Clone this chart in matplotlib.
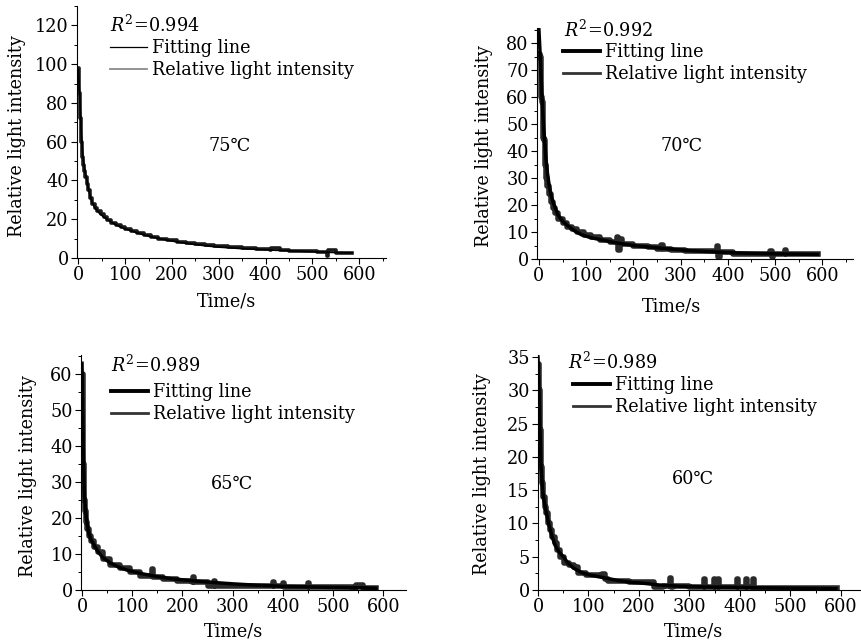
import matplotlib
matplotlib.use('Agg')
import matplotlib.pyplot as plt
from matplotlib.ticker import MultipleLocator

plt.rcParams['font.family'] = ['DejaVu Serif', 'DejaVu Sans']
plt.rcParams['mathtext.fontset'] = 'dejavuserif'
FS = 12.7
plt.rcParams['font.size'] = FS

# 75 C
t75_fit = [0, 2, 4, 6, 8, 10, 14, 18, 22, 28, 35, 45, 55, 70, 85, 100, 125, 150,
           180, 210, 240, 275, 300, 350, 400, 450, 500, 550, 585]
i75_fit = [97, 88, 78, 66, 58, 52, 45, 40, 35, 29.5, 26, 23, 21, 18.5, 16.5, 15, 13, 11.2,
           9.6, 8.3, 7.2, 6.2, 5.6, 4.8, 4.2, 3.7, 3.2, 2.8, 2.6]
t75 = [0, 1, 2, 3, 4, 5, 6, 7, 8, 10, 12, 15, 18, 21, 25, 30, 35, 40, 48, 55, 62, 70,
       80, 90, 100, 112, 125, 140, 155, 170, 190, 210, 230, 250, 270, 290, 320, 350,
       380, 410, 412, 430, 450, 480, 510, 530, 532, 534, 550, 585]
i75 = [98, 92, 85, 80, 72, 65, 60, 56, 52, 48, 45, 42, 38, 35, 31, 28, 26, 24, 22.5, 21,
       19.5, 18, 17, 16, 15, 14, 13, 12, 11, 10, 9.3, 8.5, 7.5, 7, 6.5, 6, 5.5, 5,
       4.5, 4.2, 5.2, 4, 3.8, 3.5, 3, 2.8, 1.2, 4.2, 2.7, 2.6]

# 70 C
t70_fit = [0, 2, 4, 6, 8, 10, 12, 15, 18, 22, 26, 30, 40, 50, 60, 75, 90, 110, 135,
           160, 200, 240, 280, 320, 360, 400, 450, 500, 550, 590]
i70_fit = [85, 78, 70, 62, 55, 49, 44, 37, 32, 27, 23.5, 21, 16.5, 14, 12.5, 10.5, 9, 7.9, 7,
           6.1, 5, 4.3, 3.7, 3.1, 2.7, 2.4, 2.1, 1.9, 1.8, 1.7]
t70 = [0, 3, 5, 7, 9, 11, 13, 15, 18, 21, 25, 30, 35, 40, 50, 60, 70, 80, 95, 110,
       130, 150, 165, 168, 172, 176, 200, 230, 250, 258, 262, 280, 310, 340, 378, 380,
       384, 410, 490, 493, 496, 520, 524, 590]
i70 = [76, 75, 60, 58, 45, 44, 35, 30, 27, 24, 21, 19, 17, 15, 13.5, 12, 11, 10, 9, 8,
       7.2, 6.4, 8, 3.5, 7.5, 5.5, 5, 4.6, 3.8, 5.2, 3.8, 3.5, 3, 2.8, 4.8, 0.7, 2.6,
       1.8, 2.8, 0.8, 1.9, 3.2, 1.9, 1.8]

# 65 C
t65_fit = [0, 1, 2, 3, 4, 5, 7, 10, 14, 18, 22, 30, 40, 55, 72, 90, 120, 150, 180,
           210, 240, 270, 300, 350, 400, 450, 500, 550, 585]
i65_fit = [63, 52, 44, 36, 30, 26, 22, 18.5, 15.5, 14, 13, 11, 9.2, 7.6, 6.4, 5.5, 4.5, 3.7,
           3.1, 2.7, 2.3, 2, 1.7, 1.3, 1.0, 0.85, 0.7, 0.6, 0.5]
t65 = [0, 1, 2, 3, 4, 5, 7, 10, 14, 18, 24, 32, 42, 56, 75, 96, 116, 138, 140, 142,
       162, 190, 218, 220, 222, 250, 262, 264, 300, 380, 382, 400, 402, 450, 452, 540,
       545, 560, 585]
i65 = [60, 48, 35, 28, 25, 22, 19, 17, 15, 13.5, 12, 10.5, 8.6, 7, 6, 5, 3.8, 3.8, 5.8,
       3.5, 3, 2.4, 2.2, 3.6, 2.1, 1.2, 2.4, 1.1, 1.1, 2.2, 1, 2, 0.8, 1.8, 0.8, 0.6, 1.5,
       0.6, 0.5]

# 60 C
t60_fit = [0, 2, 4, 6, 9, 12, 16, 22, 28, 34, 42, 51, 60, 70, 87, 100, 119, 140, 160,
           184, 210, 240, 283, 330, 380, 448, 520, 590]
i60_fit = [35, 30, 24, 18.6, 15, 13.4, 11.8, 9.7, 8, 6.7, 5.7, 4.9, 4, 3.3, 2.6, 2.3, 2.0,
           1.7, 1.4, 1.15, 1.0, 0.75, 0.55, 0.45, 0.4, 0.32, 0.25, 0.2]
t60 = [0, 2, 4, 6, 8, 10, 13, 16, 20, 24, 28, 33, 38, 44, 52, 62, 72, 80, 95, 110, 126,
       132, 138, 180, 220, 230, 248, 262, 264, 268, 300, 328, 330, 334, 348, 350, 356,
       358, 362, 395, 397, 412, 414, 426, 428, 470, 592]
i60 = [34, 30, 24, 18.5, 16, 14, 12.5, 11.5, 10, 9, 8, 7, 6, 5, 4, 3.8, 3.4, 2.5, 2.3, 2.2,
       2.4, 1.6, 1.3, 1.2, 1.2, 0.4, 0.6, 1.8, 0.5, 0.6, 0.5, 1.6, 0.5, 0.5, 1.7, 0.5,
       1.6, 0.5, 0.5, 1.6, 0.5, 1.6, 0.5, 1.6, 0.3, 0.3, 0.3]

panels = [
  dict(rect=[0.0893, 0.5994, 0.3585, 0.3913], xlim=(-3, 657), ylim=(0, 130), ymaj=20, ymin=10,
       tf=t75_fit, yf=i75_fit, t=t75, y=i75, r2='0.994', temp='75℃', thin=True,
       r2pos=(0.107, 0.925), legpos=(0.107, 0.868), temppos=(0.495, 0.444),
       ylab=(-0.165, 0.484), xlab=(0.485, -0.135)),
  dict(rect=[0.623, 0.5978, 0.3666, 0.3587], xlim=(-4, 665), ylim=(0, 85.6), ymaj=10, ymin=5,
       tf=t70_fit, yf=i70_fit, t=t70, y=i70, r2='0.992', temp='70℃', thin=False,
       r2pos=(0.085, 0.99), legpos=(0.082, 0.935), temppos=(0.456, 0.489),
       ylab=(-0.139, 0.49), xlab=(0.424, -0.165)),
  dict(rect=[0.094, 0.0839, 0.377, 0.3649], xlim=(-2, 645), ylim=(0, 65.3), ymaj=10, ymin=5,
       tf=t65_fit, yf=i65_fit, t=t65, y=i65, r2='0.989', temp='65℃', thin=False,
       r2pos=(0.092, 0.957), legpos=(0.092, 0.88), temppos=(0.465, 0.451),
       ylab=(-0.135, 0.485), xlab=(0.468, -0.14)),
  dict(rect=[0.6241, 0.0839, 0.3747, 0.3649], xlim=(0, 640), ylim=(0, 35.3), ymaj=5, ymin=2.5,
       tf=t60_fit, yf=i60_fit, t=t60, y=i60, r2='0.989', temp='60℃', thin=False,
       r2pos=(0.093, 0.97), legpos=(0.108, 0.91), temppos=(0.48, 0.472),
       ylab=(-0.146, 0.494), xlab=(0.483, -0.14)),
]

fig = plt.figure(figsize=(8.62, 6.44), dpi=100)

for p in panels:
  ax = fig.add_axes(p['rect'])
  if p['thin']:
    ax.plot(p['t'], p['y'], color='#1a1a1a', lw=2.6, drawstyle='steps-post')
    ax.plot(p['tf'], p['yf'], color='black', lw=1.2)
    hf = plt.Line2D([], [], color='black', lw=0.9)
    hd = plt.Line2D([], [], color='#8a8a8a', lw=1.3)
  else:
    ax.plot(p['t'], p['y'], color='#2a2a2a', lw=4, drawstyle='steps-post')
    ax.plot(p['tf'], p['yf'], color='black', lw=2.5)
    hf = plt.Line2D([], [], color='black', lw=2.8)
    hd = plt.Line2D([], [], color='#333333', lw=2.0)
  ax.set_xlim(*p['xlim'])
  ax.set_ylim(*p['ylim'])
  ax.spines['top'].set_visible(False)
  ax.spines['right'].set_visible(False)
  ax.xaxis.set_major_locator(MultipleLocator(100))
  ax.xaxis.set_minor_locator(MultipleLocator(50))
  ax.yaxis.set_major_locator(MultipleLocator(p['ymaj']))
  ax.yaxis.set_minor_locator(MultipleLocator(p['ymin']))
  ax.tick_params(which='major', direction='out', length=4, width=0.8, labelsize=FS, pad=2)
  ax.tick_params(which='minor', direction='out', length=2.5, width=0.7)
  ax.set_xlabel('Time/s', fontsize=FS)
  ax.set_ylabel('Relative light intensity', fontsize=FS)
  ax.xaxis.set_label_coords(*p['xlab'])
  ax.yaxis.set_label_coords(*p['ylab'])
  ax.text(p['r2pos'][0], p['r2pos'][1], r'$R^2$=' + p['r2'], transform=ax.transAxes,
          ha='left', va='center', fontsize=FS)
  ax.legend([hf, hd], ['Fitting line', 'Relative light intensity'], loc='upper left',
            bbox_to_anchor=p['legpos'], frameon=False, borderpad=0, borderaxespad=0,
            handlelength=2.1, handletextpad=0.3, labelspacing=0.22, fontsize=FS)
  ax.text(p['temppos'][0], p['temppos'][1], p['temp'], transform=ax.transAxes,
          ha='center', va='center', fontsize=FS)

fig.savefig('out.png', dpi=100)
